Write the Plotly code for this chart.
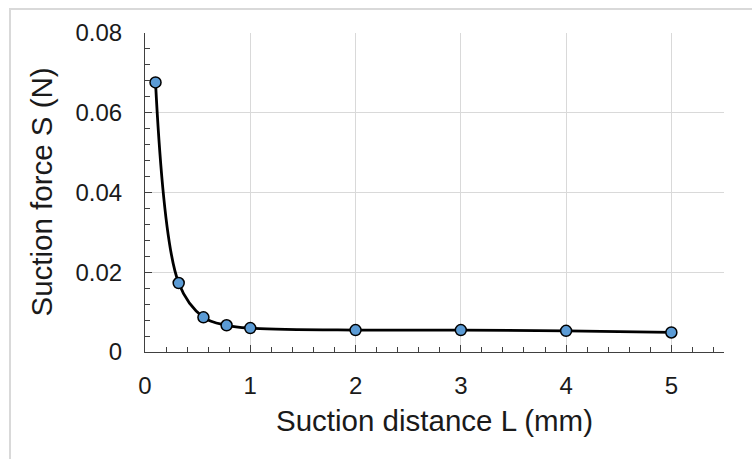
import plotly.graph_objects as go

distance_mm = [0.1, 0.32, 0.555, 0.775, 1.0, 2.0, 3.0, 4.0, 5.0]
suction_force_N = [0.0676, 0.0173, 0.0087, 0.0067, 0.0060, 0.0055, 0.0055, 0.0053, 0.0049]

x_title = "Suction distance L (mm)"
y_title = "Suction force S (N)"

FONT = "Liberation Sans, Arial, sans-serif"
W, H = 752, 459
L, R, T, B = 145, 28, 33, 107
pw, ph = W - L - R, H - T - B

fig = go.Figure()
fig.add_trace(go.Scatter(
    x=distance_mm, y=suction_force_N, mode="lines+markers",
    line=dict(color="black", width=2.8, shape="spline", smoothing=1.0),
    marker=dict(size=11, color="#5B9BD5", line=dict(color="black", width=1.5)),
    showlegend=False, cliponaxis=False,
))

axis_common = dict(
    showline=True, linecolor="#404040", linewidth=1,
    ticks="inside", tickcolor="#404040", ticklen=7, tickwidth=1,
    showgrid=True, gridcolor="#d9d9d9", gridwidth=1,
    zeroline=False, mirror=False,
    tickfont=dict(family=FONT, size=24, color="#1a1a1a"),
)

fig.update_xaxes(range=[0, 5.5], tick0=0, dtick=1, ticklabelstandoff=12,
                 minor=dict(dtick=0.2, ticks="inside", ticklen=5, tickcolor="#404040", showgrid=False),
                 **axis_common)
fig.update_yaxes(range=[0, 0.08], tick0=0, dtick=0.02, ticklabelstandoff=17,
                 tickformat="~g",
                 minor=dict(dtick=0.004, ticks="inside", ticklen=5, tickcolor="#404040", showgrid=False),
                 **axis_common)

def px_x(p):
    return (p - L) / pw

def px_y(p):
    return (H - B - p) / ph

fig.add_annotation(text=x_title, xref="paper", yref="paper", x=0.5, y=px_y(420),
                   xanchor="center", yanchor="middle", showarrow=False,
                   font=dict(family=FONT, size=29.5, color="#1a1a1a"))
fig.add_annotation(text=y_title, xref="paper", yref="paper", x=px_x(41), y=0.5,
                   xanchor="center", yanchor="middle", textangle=-90, showarrow=False,
                   font=dict(family=FONT, size=29.5, color="#1a1a1a"))

fig.add_shape(type="rect", xref="paper", yref="paper",
              x0=px_x(10), y0=px_y(470), x1=px_x(770), y1=px_y(9),
              line=dict(color="#d9d9d9", width=2), fillcolor="rgba(0,0,0,0)", layer="below")

fig.update_layout(
    width=W, height=H, margin=dict(l=L, r=R, t=T, b=B),
    paper_bgcolor="white", plot_bgcolor="white",
)

fig.write_html("out.html")
